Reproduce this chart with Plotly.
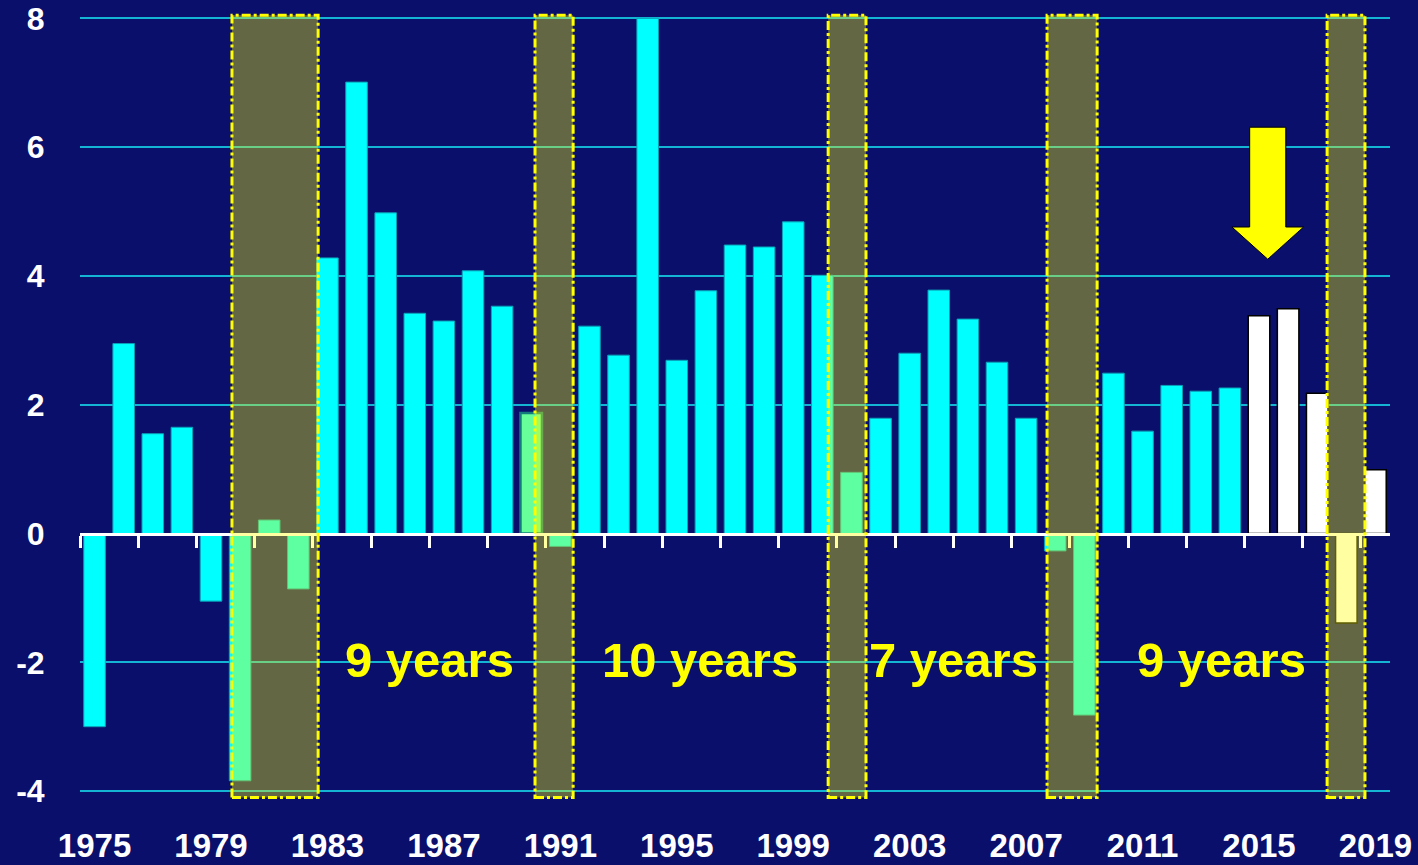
import plotly.graph_objects as go

# Annual growth, %, 1975-2019
years = list(range(1975, 2020))
growth = [
    -3.0, 2.95, 1.55, 1.65, -1.05, -3.84, 0.21, -0.86, 4.28, 7.01,
    4.98, 3.42, 3.30, 4.08, 3.53, 1.87, -0.20, 3.22, 2.77, 8.00,
    2.69, 3.77, 4.48, 4.45, 4.84, 4.01, 0.95, 1.79, 2.80, 3.78,
    3.33, 2.66, 1.79, -0.27, -2.82, 2.49, 1.59, 2.30, 2.21, 2.26,
    3.38, 3.49, 2.18, -1.39, 0.99,
]
forecast_from = 2015
highlight_years = [1990]

# Recession periods (fractional years)
rec_start = [1979.72, 1990.13, 2000.20, 2007.72, 2017.34]
rec_end = [1982.68, 1991.44, 2001.50, 2009.44, 2018.64]

# Expansion length labels
exp_labels = ["9 years", "10 years", "7 years", "9 years"]
exp_x = [1986.5, 1995.8, 2004.5, 2013.7]

x_ticks = list(range(1975, 2020, 4))
y_ticks = [-4, -2, 0, 2, 4, 6, 8]

NAVY = "#0a0f6b"
CYAN = "#00ffff"
GRID = "#13b4d4"
YELLOW = "#ffff00"
FONT = "Liberation Sans, Arial, sans-serif"

Y_MIN, Y_MAX = -4.216, 8.13
X_MIN, X_MAX = 1974.5, 2019.5

fill_colors, line_colors, line_widths = [], [], []
for yr in years:
    if yr >= forecast_from:
        fill_colors.append("#ffffff"); line_colors.append("#000000"); line_widths.append(1.5)
    elif yr in highlight_years:
        fill_colors.append("#66ff99"); line_colors.append("#127c7c"); line_widths.append(2.5)
    else:
        fill_colors.append(CYAN); line_colors.append("#0aa0b8"); line_widths.append(1)

fig = go.Figure()
fig.add_trace(go.Bar(
    x=years, y=growth,
    marker=dict(color=fill_colors, line=dict(color=line_colors, width=line_widths)),
    width=0.74, hoverinfo="skip", showlegend=False,
))
# helper trace carrying the zero-line axis with its tick marks
fig.add_trace(go.Scatter(x=[X_MIN, X_MAX], y=[0, 0], xaxis="x2", mode="lines",
                         line=dict(width=0), hoverinfo="skip", showlegend=False))

shapes = []
for s, e in zip(rec_start, rec_end):
    shapes.append(dict(
        type="rect", xref="x", yref="y", x0=s, x1=e, y0=-4.1, y1=8.05,
        fillcolor="rgba(255,255,0,0.37)",
        line=dict(color=YELLOW, width=3, dash="dashdot"),
        layer="above",
    ))

# down arrow above the forecast bars
ax_c, ax_half_shaft, ax_half_head = 2015.3, 0.62, 1.23
ax_top, ax_neck, ax_tip = 6.31, 4.76, 4.26
arrow_path = (
    f"M {ax_c - ax_half_shaft},{ax_top} L {ax_c + ax_half_shaft},{ax_top} "
    f"L {ax_c + ax_half_shaft},{ax_neck} L {ax_c + ax_half_head},{ax_neck} "
    f"L {ax_c},{ax_tip} L {ax_c - ax_half_head},{ax_neck} "
    f"L {ax_c - ax_half_shaft},{ax_neck} Z"
)
shapes.append(dict(type="path", xref="x", yref="y", path=arrow_path,
                   fillcolor=YELLOW, line=dict(color="#000000", width=1), layer="above"))

annotations = [
    dict(x=xv, y=-1.97, xref="x", yref="y", text=t, showarrow=False,
         font=dict(family=FONT, size=49, color=YELLOW, weight="bold"),
         xanchor="center", yanchor="middle")
    for t, xv in zip(exp_labels, exp_x)
]

boundary_ticks = [y - 0.5 for y in range(1975, 2021, 2)]

fig.update_layout(
    width=1418, height=865,
    margin=dict(l=80, r=28, t=10, b=60),
    paper_bgcolor=NAVY, plot_bgcolor=NAVY,
    bargap=0.26,
    shapes=shapes,
    annotations=annotations,
    xaxis=dict(
        range=[X_MIN, X_MAX], tickvals=x_ticks, ticktext=[str(v) for v in x_ticks],
        showgrid=False, zeroline=False, showline=False, automargin=False,
        ticks="outside", ticklen=11, tickcolor="rgba(0,0,0,0)",
        ticklabeloverflow="allow",
        tickfont=dict(family=FONT, size=33, color="#ffffff", weight="bold"),
    ),
    xaxis2=dict(
        overlaying="x", anchor="free", position=(0 - Y_MIN) / (Y_MAX - Y_MIN),
        range=[X_MIN, X_MAX], tickvals=boundary_ticks, showticklabels=False,
        showgrid=False, zeroline=False, automargin=False,
        showline=True, linecolor="#ffffff", linewidth=3,
        ticks="outside", ticklen=12, tickwidth=2.5, tickcolor="#ffffff",
    ),
    yaxis=dict(
        range=[Y_MIN, Y_MAX], tickvals=y_ticks, ticktext=[str(v) for v in y_ticks],
        showgrid=True, gridcolor=GRID, gridwidth=2,
        zeroline=False, showline=False, automargin=False,
        ticks="outside", ticklen=28, tickcolor="rgba(0,0,0,0)",
        ticklabeloverflow="allow",
        tickfont=dict(family=FONT, size=32, color="#ffffff", weight="bold"),
    ),
)

fig.write_html("out.html")
